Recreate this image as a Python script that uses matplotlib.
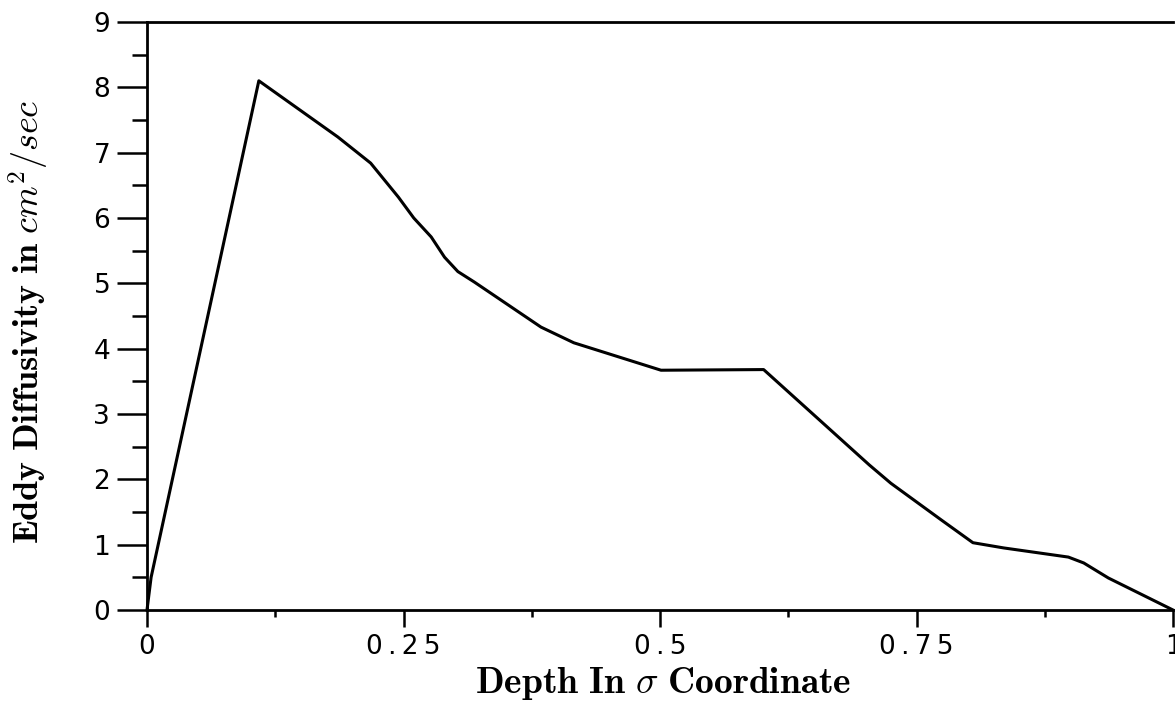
import matplotlib
matplotlib.use("Agg")
import matplotlib.pyplot as plt
from matplotlib.ticker import FixedLocator, MultipleLocator

# Data
depth = [0.0, 0.004, 0.109, 0.186, 0.202, 0.218, 0.245, 0.260, 0.277, 0.290,
         0.303, 0.319, 0.384, 0.416, 0.501, 0.601, 0.704, 0.725, 0.774, 0.805,
         0.835, 0.898, 0.913, 0.937, 1.0]
diffusivity = [0.0, 0.5, 8.10, 7.24, 7.04, 6.84, 6.32, 6.00, 5.71, 5.40,
               5.18, 5.02, 4.33, 4.09, 3.67, 3.68, 2.22, 1.94, 1.38, 1.03,
               0.95, 0.81, 0.72, 0.49, 0.0]

x_ticks = [0, 0.25, 0.5, 0.75, 1]
x_tick_labels = ["0", "0.25", "0.5", "0.75", "1"]
y_ticks = [0, 1, 2, 3, 4, 5, 6, 7, 8, 9]
y_tick_labels = ["0", "1", "2", "3", "4", "5", "6", "7", "8", "9"]

plt.rcParams["mathtext.fontset"] = "cm"

W, H = 1175, 710
fig = plt.figure(figsize=(W / 100, H / 100), dpi=100)
ax = fig.add_axes([147 / W, (H - 610) / H, 1026 / W, 588 / H])

ax.plot(depth, diffusivity, color="black", lw=2.2, clip_on=False,
        solid_joinstyle="round")

ax.set_xlim(0, 1)
ax.set_ylim(0, 9)

spaced = lambda s: "\u2009".join(s)
ax.xaxis.set_major_locator(FixedLocator(x_ticks))
ax.set_xticklabels([spaced(s) for s in x_tick_labels])
ax.xaxis.set_minor_locator(MultipleLocator(0.125))
ax.yaxis.set_major_locator(FixedLocator(y_ticks))
ax.set_yticklabels(y_tick_labels)
ax.yaxis.set_minor_locator(MultipleLocator(0.5))

for lab in ax.get_xticklabels() + ax.get_yticklabels():
    lab.set_fontfamily("DejaVu Sans")
    lab.set_fontsize(19)

ax.tick_params(axis="x", which="major", direction="out", length=12, width=1.8, pad=5)
ax.tick_params(axis="x", which="minor", direction="out", length=5, width=1.8)
ax.tick_params(axis="y", which="major", direction="out", length=21.5, width=1.8, pad=5)
ax.tick_params(axis="y", which="minor", direction="out", length=10.5, width=1.8)

for side in ["left", "bottom", "top"]:
    ax.spines[side].set_linewidth(2.0)
ax.spines["right"].set_visible(False)

ax.set_xlabel(r"$\mathbf{Depth\ In}\ \sigma\ \mathbf{Coordinate}$", fontsize=27)
ax.xaxis.set_label_coords(0.503, -0.093)
ax.set_ylabel(r"$\mathbf{Eddy\ Diffusivity\ in}\ cm^2/sec$", fontsize=26)
ax.yaxis.set_label_coords(-0.094, 0.491)

fig.savefig("out.png", dpi=100)
